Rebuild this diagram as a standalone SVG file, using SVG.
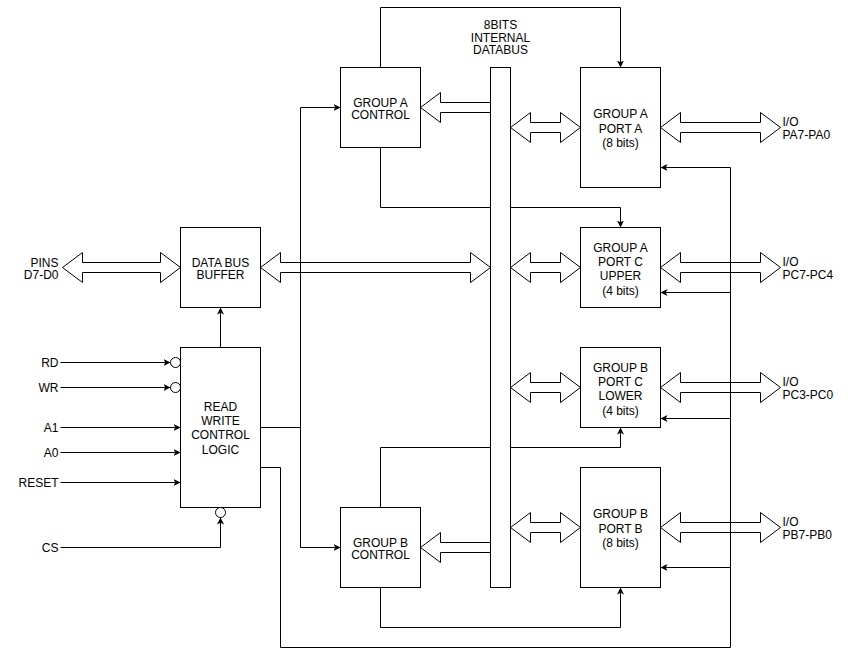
<svg xmlns="http://www.w3.org/2000/svg" width="850" height="656" viewBox="0 0 850 656">
<style>
.box{fill:#fff;stroke:#000;stroke-width:1}
.ln{fill:none;stroke:#000;stroke-width:1}
.ba{fill:#fff;stroke:#000;stroke-width:1}
.t{font-family:"Liberation Sans",Arial,sans-serif;font-size:12px;fill:#000}
.c{text-anchor:middle}
.r{text-anchor:end}
</style>
<defs>
<marker id="arr" viewBox="0 0 10 10" refX="10" refY="5" markerWidth="7" markerHeight="7" markerUnits="userSpaceOnUse" orient="auto"><path d="M0,0 L10,5 L0,10 L2.5,5 z" fill="#000"/></marker>
</defs>
<rect width="850" height="656" fill="#fff"/>
<g transform="translate(0.5,0.5)">
<g id="bus-arrows">
<path class="ba" d="M62 267 L82 252 L82 262 L160 262 L160 252 L180 267 L160 282 L160 272 L82 272 L82 282 Z"/>
<path class="ba" d="M260 267 L280 252 L280 262 L470 262 L470 252 L490 267 L470 282 L470 272 L280 272 L280 282 Z"/>
<path class="ba" d="M420 107 L440 92 L440 102 L490 102 L490 112 L440 112 L440 122 Z"/>
<path class="ba" d="M420 547 L440 532 L440 542 L490 542 L490 552 L440 552 L440 562 Z"/>
<path class="ba" d="M510 127 L530 112 L530 122 L560 122 L560 112 L580 127 L560 142 L560 132 L530 132 L530 142 Z"/>
<path class="ba" d="M510 267 L530 252 L530 262 L560 262 L560 252 L580 267 L560 282 L560 272 L530 272 L530 282 Z"/>
<path class="ba" d="M510 387 L530 372 L530 382 L560 382 L560 372 L580 387 L560 402 L560 392 L530 392 L530 402 Z"/>
<path class="ba" d="M510 527 L530 512 L530 522 L560 522 L560 512 L580 527 L560 542 L560 532 L530 532 L530 542 Z"/>
<path class="ba" d="M660 127 L680 112 L680 122 L760 122 L760 112 L780 127 L760 142 L760 132 L680 132 L680 142 Z"/>
<path class="ba" d="M660 267 L680 252 L680 262 L760 262 L760 252 L780 267 L760 282 L760 272 L680 272 L680 282 Z"/>
<path class="ba" d="M660 387 L680 372 L680 382 L760 382 L760 372 L780 387 L760 402 L760 392 L680 392 L680 402 Z"/>
<path class="ba" d="M660 527 L680 512 L680 522 L760 522 L760 512 L780 527 L760 542 L760 532 L680 532 L680 542 Z"/>
</g>
<g id="connectors">
<path class="ln" d="M380 67 V7 H620 V67" marker-end="url(#arr)"/>
<path class="ln" d="M380 147 V207 H620 V227" marker-end="url(#arr)"/>
<path class="ln" d="M380 507 V447 H620 V427" marker-end="url(#arr)"/>
<path class="ln" d="M380 587 V627 H620 V587" marker-end="url(#arr)"/>
<path class="ln" d="M260 427 H300 V107 H340" marker-end="url(#arr)"/>
<path class="ln" d="M300 427 V547 H340" marker-end="url(#arr)"/>
<path class="ln" d="M260 467 H280 V647 H730 V167 H660" marker-end="url(#arr)"/>
<path class="ln" d="M730 292 H660" marker-end="url(#arr)"/>
<path class="ln" d="M730 418 H660" marker-end="url(#arr)"/>
<path class="ln" d="M730 567 H660" marker-end="url(#arr)"/>
<path class="ln" d="M220 347 V307" marker-end="url(#arr)"/>
<path class="ln" d="M60 362 H170" marker-end="url(#arr)"/>
<path class="ln" d="M60 387 H170" marker-end="url(#arr)"/>
<path class="ln" d="M60 427 H180" marker-end="url(#arr)"/>
<path class="ln" d="M60 452 H180" marker-end="url(#arr)"/>
<path class="ln" d="M60 482 H180" marker-end="url(#arr)"/>
<path class="ln" d="M60 547 H220 V517" marker-end="url(#arr)"/>
<circle class="box" cx="175" cy="362" r="5"/>
<circle class="box" cx="175" cy="387" r="5"/>
<circle class="box" cx="220" cy="512" r="5"/>
</g>
<g id="bus">
<rect class="box" x="490" y="67" width="20" height="520"/>
<text class="t c" x="500" y="28.3">8BITS</text>
<text class="t c" x="500" y="41">INTERNAL</text>
<text class="t c" x="500" y="53.6">DATABUS</text>
</g>
<g id="group-a-control">
<rect class="box" x="340" y="67" width="80" height="80"/>
<text class="t c" x="380" y="106">GROUP A</text>
<text class="t c" x="380" y="118.6">CONTROL</text>
</g>
<g id="group-b-control">
<rect class="box" x="340" y="507" width="80" height="80"/>
<text class="t c" x="380" y="546">GROUP B</text>
<text class="t c" x="380" y="558.6">CONTROL</text>
</g>
<g id="data-bus-buffer">
<rect class="box" x="180" y="227" width="80" height="80"/>
<text class="t c" x="220" y="266">DATA BUS</text>
<text class="t c" x="220" y="278.6">BUFFER</text>
</g>
<g id="rw-control-logic">
<rect class="box" x="180" y="347" width="80" height="160"/>
<text class="t c" x="220" y="410">READ</text>
<text class="t c" x="220" y="424.4">WRITE</text>
<text class="t c" x="220" y="438.8">CONTROL</text>
<text class="t c" x="220" y="453.2">LOGIC</text>
</g>
<g id="port-a">
<rect class="box" x="580" y="67" width="80" height="120"/>
<text class="t c" x="620" y="117.6">GROUP A</text>
<text class="t c" x="620" y="132">PORT A</text>
<text class="t c" x="620" y="146.4">(8 bits)</text>
</g>
<g id="port-c-upper">
<rect class="box" x="580" y="227" width="80" height="80"/>
<text class="t c" x="620" y="251">GROUP A</text>
<text class="t c" x="620" y="265.4">PORT C</text>
<text class="t c" x="620" y="279.8">UPPER</text>
<text class="t c" x="620" y="294.2">(4 bits)</text>
</g>
<g id="port-c-lower">
<rect class="box" x="580" y="347" width="80" height="80"/>
<text class="t c" x="620" y="371">GROUP B</text>
<text class="t c" x="620" y="385.4">PORT C</text>
<text class="t c" x="620" y="399.8">LOWER</text>
<text class="t c" x="620" y="414.2">(4 bits)</text>
</g>
<g id="port-b">
<rect class="box" x="580" y="467" width="80" height="120"/>
<text class="t c" x="620" y="517.6">GROUP B</text>
<text class="t c" x="620" y="532">PORT B</text>
<text class="t c" x="620" y="546.4">(8 bits)</text>
</g>
<g id="labels">
<text class="t r" x="58" y="266">PINS</text>
<text class="t r" x="58" y="278.6">D7-D0</text>
<text class="t r" x="58" y="366.3">RD</text>
<text class="t r" x="58" y="391.3">WR</text>
<text class="t r" x="58" y="431.3">A1</text>
<text class="t r" x="58" y="456.3">A0</text>
<text class="t r" x="58" y="486.3">RESET</text>
<text class="t r" x="58" y="551.3">CS</text>
<text class="t" x="782" y="125">I/O</text>
<text class="t" x="782" y="138">PA7-PA0</text>
<text class="t" x="782" y="265">I/O</text>
<text class="t" x="782" y="278.6">PC7-PC4</text>
<text class="t" x="782" y="385">I/O</text>
<text class="t" x="782" y="398.6">PC3-PC0</text>
<text class="t" x="782" y="525">I/O</text>
<text class="t" x="782" y="538.6">PB7-PB0</text>
</g>
</g>
</svg>
